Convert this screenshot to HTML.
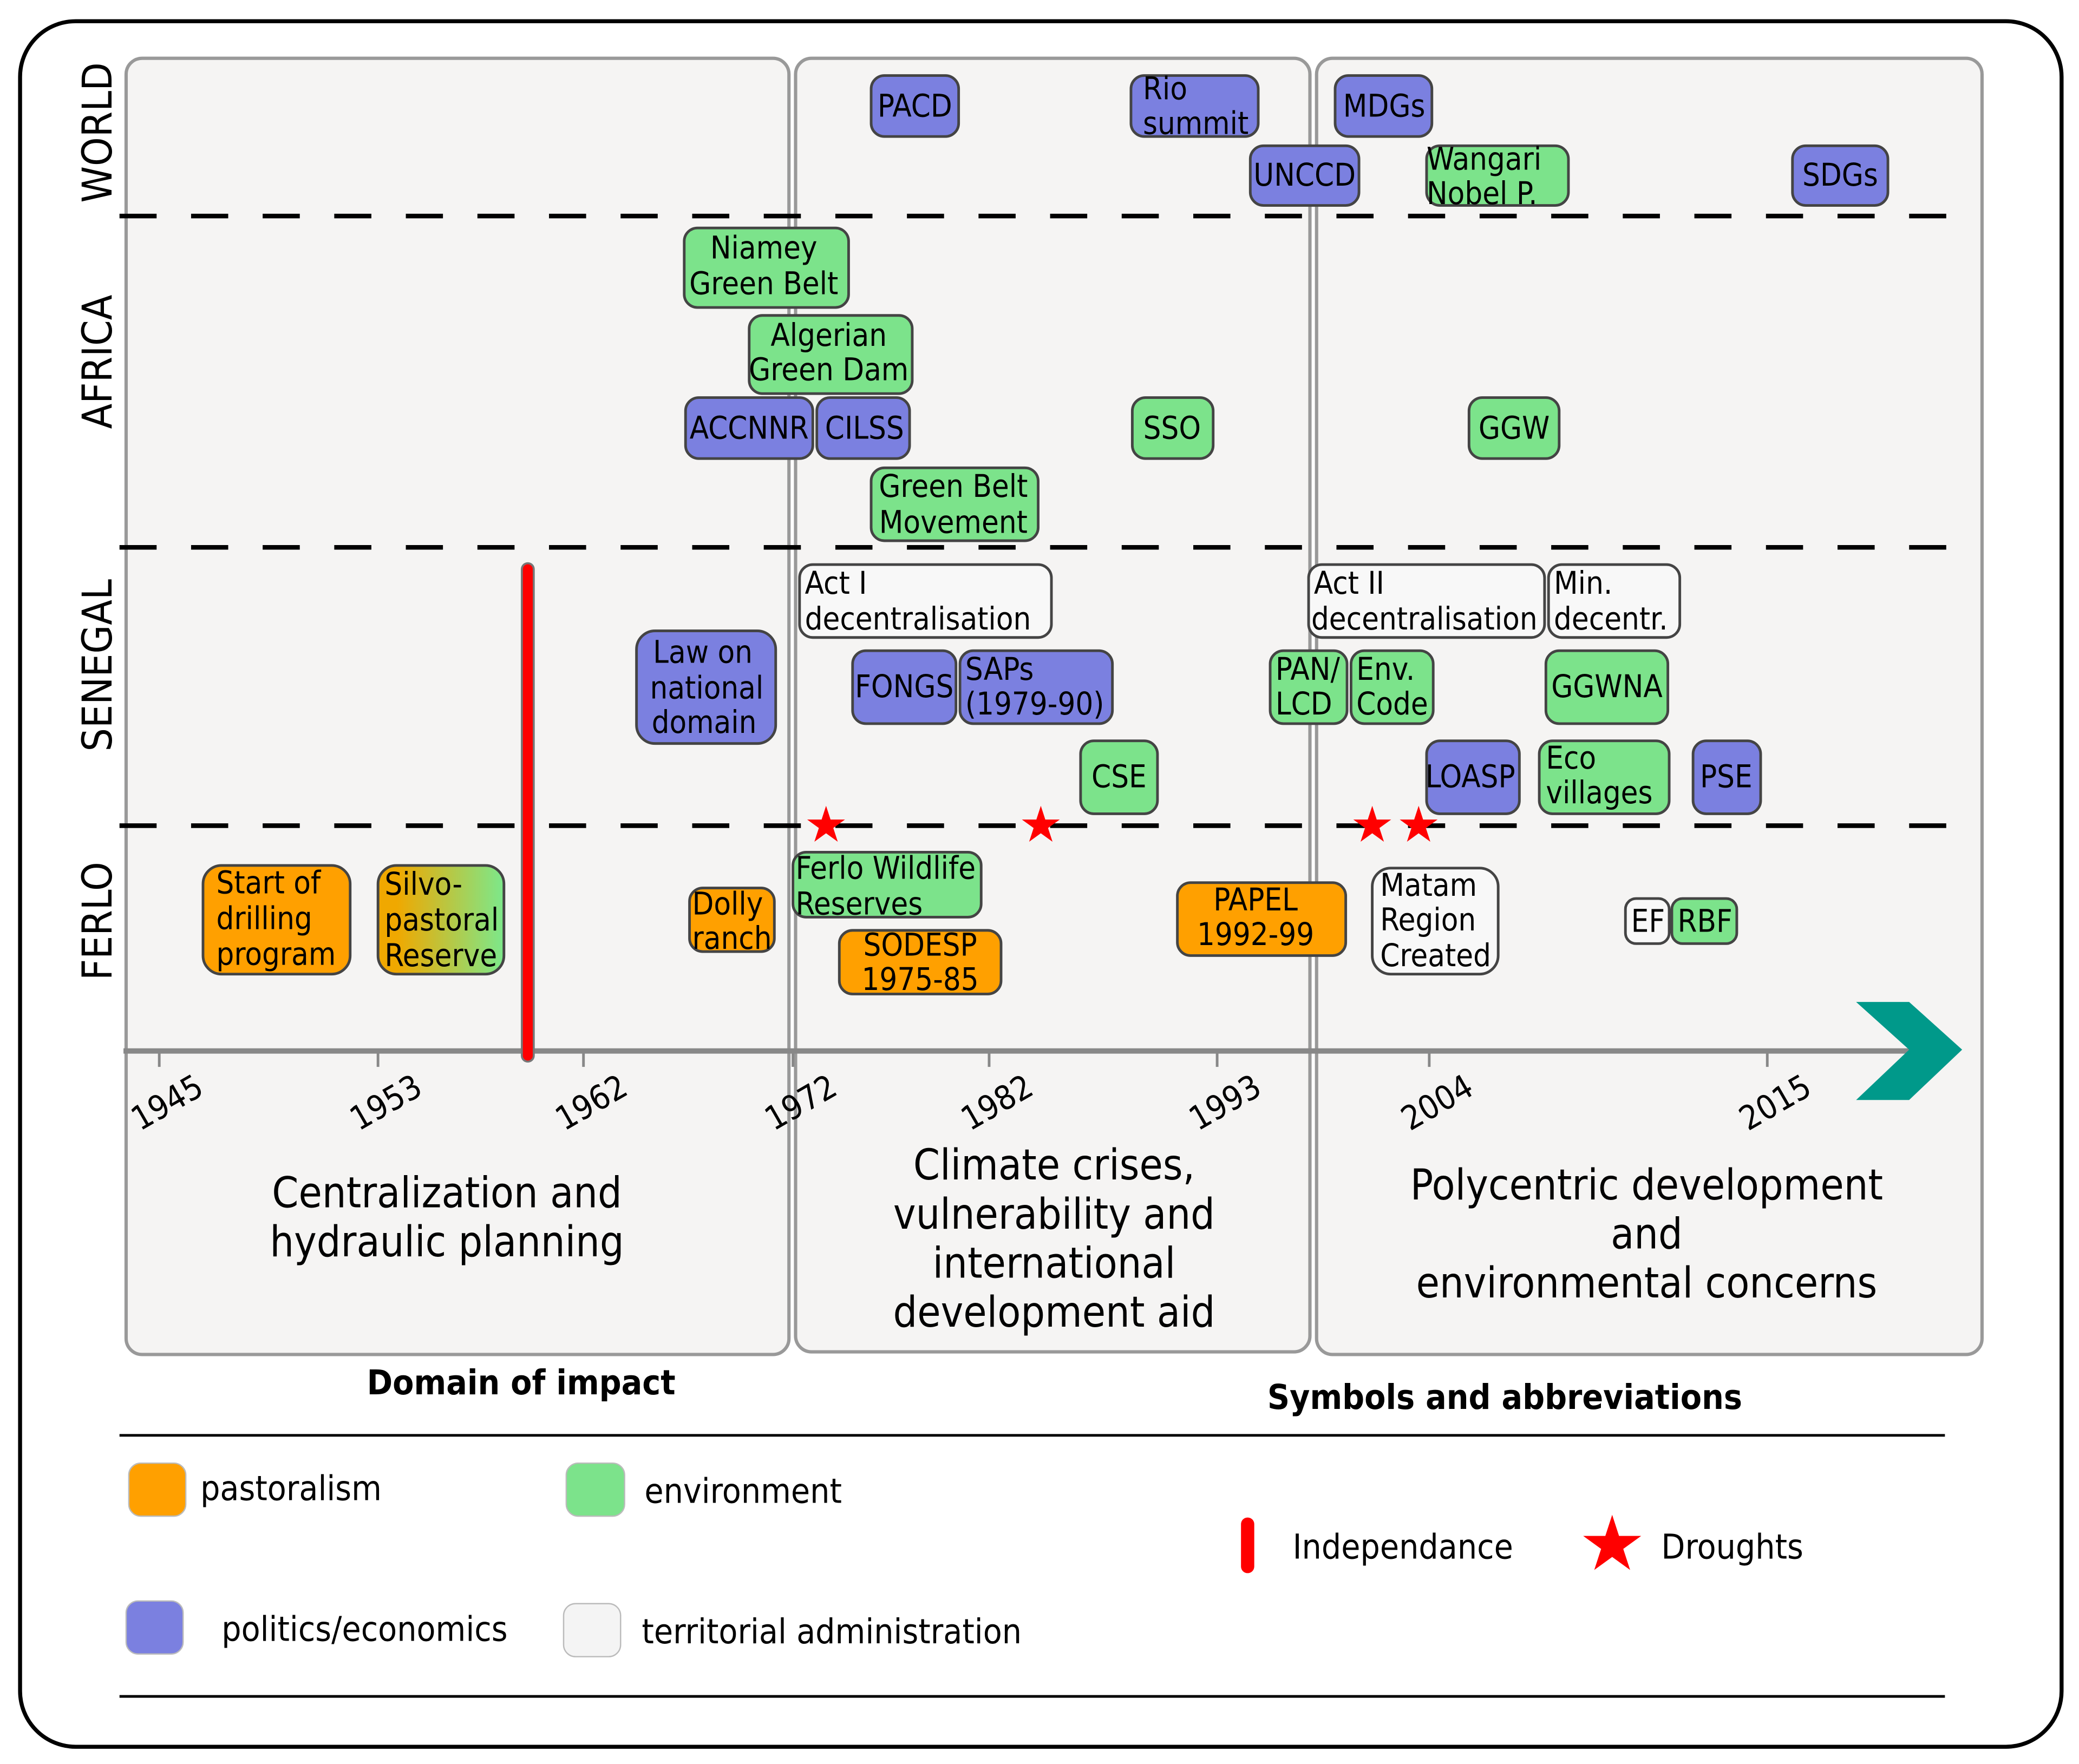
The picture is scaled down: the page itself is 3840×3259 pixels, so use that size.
<!DOCTYPE html>
<html><head><meta charset="utf-8"><style>
html,body{margin:0;padding:0;background:#fff;}
svg{display:block;}
text{font-family:"DejaVu Sans Condensed","DejaVu Sans","Liberation Sans",sans-serif;fill:#000;}
</style></head><body>
<svg width="3840" height="3259" viewBox="0 0 1568 1331" xmlns="http://www.w3.org/2000/svg">
<defs>
<linearGradient id="sg" x1="0" x2="1" y1="0" y2="0"><stop offset="0.15" stop-color="#f0a800"/><stop offset="1" stop-color="#7ce88b"/></linearGradient>
</defs>
<rect x="0" y="0" width="1568" height="1331" fill="#fff"/>
<rect x="15" y="16" width="1540" height="1302" rx="42" fill="#fff" stroke="#000" stroke-width="3"/>
<g fill="#f5f4f3" stroke="#999" stroke-width="2.5">
<rect x="95" y="44" width="500" height="978" rx="12"/>
<rect x="600" y="44" width="388" height="976" rx="12"/>
<rect x="993" y="44" width="502" height="978" rx="12"/>
</g>
<g stroke="#000" stroke-width="3.5" stroke-dasharray="28,26">
<line x1="90" y1="163" x2="1478" y2="163"/>
<line x1="90" y1="413" x2="1478" y2="413"/>
<line x1="90" y1="623" x2="1478" y2="623"/>
</g>
<g font-size="31" style="font-family:'DejaVu Sans',sans-serif">
<text transform="translate(84,100) rotate(-90)" text-anchor="middle">WORLD</text>
<text transform="translate(84,273) rotate(-90)" text-anchor="middle">AFRICA</text>
<text transform="translate(84,502) rotate(-90)" text-anchor="middle">SENEGAL</text>
<text transform="translate(84,695) rotate(-90)" text-anchor="middle">FERLO</text>
</g>
<line x1="93" y1="793" x2="1440" y2="793" stroke="#888" stroke-width="4"/>
<polygon points="1400,756 1440,756 1480,792 1440,830 1400,830 1440,792" fill="#00998a"/>
<g stroke="#888" stroke-width="2">
<line x1="120" y1="793" x2="120" y2="805"/><line x1="285" y1="793" x2="285" y2="805"/><line x1="440" y1="793" x2="440" y2="805"/><line x1="598" y1="793" x2="598" y2="805"/><line x1="746" y1="793" x2="746" y2="805"/><line x1="918" y1="793" x2="918" y2="805"/><line x1="1078" y1="793" x2="1078" y2="805"/><line x1="1333" y1="793" x2="1333" y2="805"/>
</g>
<g font-size="25" text-anchor="end" style="font-family:'DejaVu Sans',sans-serif">
<text transform="translate(155,825) rotate(-30)">1945</text>
<text transform="translate(320,825) rotate(-30)">1953</text>
<text transform="translate(475,825) rotate(-30)">1962</text>
<text transform="translate(633,825) rotate(-30)">1972</text>
<text transform="translate(781,825) rotate(-30)">1982</text>
<text transform="translate(953,825) rotate(-30)">1993</text>
<text transform="translate(1113,825) rotate(-30)">2004</text>
<text transform="translate(1368,825) rotate(-30)">2015</text>
</g>
<rect x="393.5" y="425" width="9" height="376" rx="4.5" fill="#f00" stroke="#777" stroke-width="1.5"/>
<g stroke="#444" stroke-width="2">
<rect x="657" y="57" width="66" height="46" rx="10" fill="#7b80e0"/>
<rect x="853" y="57" width="96" height="46" rx="10" fill="#7b80e0"/>
<rect x="1007" y="57" width="73" height="46" rx="10" fill="#7b80e0"/>
<rect x="943" y="110" width="82" height="45" rx="10" fill="#7b80e0"/>
<rect x="1076" y="110" width="107" height="45" rx="10" fill="#7ce38b"/>
<rect x="1352" y="110" width="72" height="45" rx="10" fill="#7b80e0"/>
<rect x="516" y="172" width="124" height="60" rx="10" fill="#7ce38b"/>
<rect x="565" y="238" width="123" height="59" rx="10" fill="#7ce38b"/>
<rect x="517" y="300" width="96" height="46" rx="10" fill="#7b80e0"/>
<rect x="616" y="300" width="70" height="46" rx="10" fill="#7b80e0"/>
<rect x="854" y="300" width="61" height="46" rx="10" fill="#7ce38b"/>
<rect x="1108" y="300" width="68" height="46" rx="10" fill="#7ce38b"/>
<rect x="657" y="353" width="126" height="55" rx="10" fill="#7ce38b"/>
<rect x="603" y="426" width="190" height="55" rx="10" fill="#f8f8f8"/>
<rect x="987" y="426" width="178" height="55" rx="10" fill="#f8f8f8"/>
<rect x="1168" y="426" width="99" height="55" rx="10" fill="#f8f8f8"/>
<rect x="480" y="476" width="105" height="85" rx="14" fill="#7b80e0"/>
<rect x="643" y="491" width="78" height="55" rx="10" fill="#7b80e0"/>
<rect x="724" y="491" width="115" height="55" rx="10" fill="#7b80e0"/>
<rect x="958" y="491" width="58" height="55" rx="10" fill="#7ce38b"/>
<rect x="1019" y="491" width="62" height="55" rx="10" fill="#7ce38b"/>
<rect x="1166" y="491" width="92" height="55" rx="10" fill="#7ce38b"/>
<rect x="815" y="559" width="58" height="55" rx="10" fill="#7ce38b"/>
<rect x="1076" y="559" width="70" height="55" rx="10" fill="#7b80e0"/>
<rect x="1161" y="559" width="98" height="55" rx="10" fill="#7ce38b"/>
<rect x="1277" y="559" width="51" height="55" rx="10" fill="#7b80e0"/>
<rect x="153" y="653" width="111" height="82" rx="14" fill="#ffa000"/>
<rect x="285" y="653" width="95" height="82" rx="14" fill="url(#sg)"/>
<rect x="520" y="670" width="64" height="48" rx="10" fill="#ffa000"/>
<rect x="598" y="643" width="142" height="49" rx="10" fill="#7ce38b"/>
<rect x="633" y="702" width="122" height="48" rx="10" fill="#ffa000"/>
<rect x="888" y="666" width="127" height="55" rx="10" fill="#ffa000"/>
<rect x="1035" y="655" width="95" height="80" rx="14" fill="#f8f8f8"/>
<rect x="1226" y="678" width="33" height="34" rx="8" fill="#f8f8f8"/>
<rect x="1261" y="678" width="49" height="34" rx="8" fill="#7ce38b"/>
</g>
<g font-size="23.5">
<text x="690" y="88" text-anchor="middle">PACD</text>
<text x="862" y="75">Rio</text><text x="862" y="101">summit</text>
<text x="1044" y="88" text-anchor="middle">MDGs</text>
<text x="984" y="140" text-anchor="middle">UNCCD</text>
<text x="1076" y="128">Wangari</text><text x="1076" y="154">Nobel P.</text>
<text x="1388" y="140" text-anchor="middle">SDGs</text>
<text x="576" y="195" text-anchor="middle">Niamey</text><text x="576" y="222" text-anchor="middle">Green Belt</text>
<text x="625" y="261" text-anchor="middle">Algerian</text><text x="625" y="287" text-anchor="middle">Green Dam</text>
<text x="565" y="331" text-anchor="middle">ACCNNR</text>
<text x="652" y="331" text-anchor="middle">CILSS</text>
<text x="884" y="331" text-anchor="middle">SSO</text>
<text x="1142" y="331" text-anchor="middle">GGW</text>
<text x="719" y="375" text-anchor="middle">Green Belt</text><text x="719" y="402" text-anchor="middle">Movement</text>
<text x="607" y="448">Act I</text><text x="607" y="475">decentralisation</text>
<text x="991" y="448">Act II</text><text x="989" y="475">decentralisation</text>
<text x="1172" y="448">Min.</text><text x="1172" y="475">decentr.</text>
<text x="530" y="500" text-anchor="middle">Law on</text><text x="533" y="527" text-anchor="middle">national</text><text x="531" y="553" text-anchor="middle">domain</text>
<text x="682" y="526" text-anchor="middle">FONGS</text>
<text x="728" y="513">SAPs</text><text x="728" y="539">(1979-90)</text>
<text x="962" y="513">PAN/</text><text x="962" y="539">LCD</text>
<text x="1023" y="513">Env.</text><text x="1023" y="539">Code</text>
<text x="1212" y="526" text-anchor="middle">GGWNA</text>
<text x="844" y="594" text-anchor="middle">CSE</text>
<text x="1109" y="594" text-anchor="middle">LOASP</text>
<text x="1166" y="580">Eco</text><text x="1166" y="606">villages</text>
<text x="1302" y="594" text-anchor="middle">PSE</text>
<text x="163" y="674">Start of</text><text x="163" y="701">drilling</text><text x="163" y="728">program</text>
<text x="290" y="675">Silvo-</text><text x="290" y="702">pastoral</text><text x="290" y="729">Reserve</text>
<text x="522" y="690">Dolly</text><text x="522" y="716">ranch</text>
<text x="600" y="663">Ferlo Wildlife</text><text x="600" y="690">Reserves</text>
<text x="694" y="721" text-anchor="middle">SODESP</text><text x="694" y="747" text-anchor="middle">1975-85</text>
<text x="947" y="687" text-anchor="middle">PAPEL</text><text x="947" y="713" text-anchor="middle">1992-99</text>
<text x="1041" y="676">Matam</text><text x="1041" y="702">Region</text><text x="1041" y="729">Created</text>
<text x="1243" y="703" text-anchor="middle">EF</text>
<text x="1286" y="703" text-anchor="middle">RBF</text>
</g>
<g fill="#f00">
<polygon transform="translate(623,623) scale(15)" points="0,-1 0.2245,-0.309 0.951,-0.309 0.363,0.118 0.588,0.809 0,0.382 -0.588,0.809 -0.363,0.118 -0.951,-0.309 -0.2245,-0.309"/>
<polygon transform="translate(785,623) scale(15)" points="0,-1 0.2245,-0.309 0.951,-0.309 0.363,0.118 0.588,0.809 0,0.382 -0.588,0.809 -0.363,0.118 -0.951,-0.309 -0.2245,-0.309"/>
<polygon transform="translate(1035,623) scale(15)" points="0,-1 0.2245,-0.309 0.951,-0.309 0.363,0.118 0.588,0.809 0,0.382 -0.588,0.809 -0.363,0.118 -0.951,-0.309 -0.2245,-0.309"/>
<polygon transform="translate(1070,623) scale(15)" points="0,-1 0.2245,-0.309 0.951,-0.309 0.363,0.118 0.588,0.809 0,0.382 -0.588,0.809 -0.363,0.118 -0.951,-0.309 -0.2245,-0.309"/>
<polygon transform="translate(1216,1166) scale(23)" points="0,-1 0.2245,-0.309 0.951,-0.309 0.363,0.118 0.588,0.809 0,0.382 -0.588,0.809 -0.363,0.118 -0.951,-0.309 -0.2245,-0.309"/>
</g>
<g font-size="32" text-anchor="middle" style="font-family:'DejaVu Sans',sans-serif">
<text x="337" y="911">Centralization and</text><text x="337" y="948">hydraulic planning</text>
<text x="795" y="890">Climate crises,</text><text x="795" y="927">vulnerability and</text><text x="795" y="964">international</text><text x="795" y="1001">development aid</text>
<text x="1242" y="905">Polycentric development</text><text x="1242" y="942">and</text><text x="1242" y="979">environmental concerns</text>
</g>
<g font-size="26" style="font-family:'DejaVu Sans',sans-serif">
<text x="393" y="1052" text-anchor="middle" font-weight="bold">Domain of impact</text>
<text x="1135" y="1063" text-anchor="middle" font-weight="bold">Symbols and abbreviations</text>
</g>
<line x1="90" y1="1083" x2="1467" y2="1083" stroke="#000" stroke-width="2"/>
<line x1="90" y1="1280" x2="1467" y2="1280" stroke="#000" stroke-width="2"/>
<g stroke="#bbb" stroke-width="1">
<rect x="97" y="1104" width="43" height="40" rx="9" fill="#ffa000"/>
<rect x="427" y="1104" width="44" height="40" rx="9" fill="#7ce38b"/>
<rect x="95" y="1208" width="43" height="40" rx="9" fill="#7b80e0"/>
<rect x="425" y="1210" width="43" height="40" rx="9" fill="#f4f4f4"/>
</g>
<rect x="936" y="1145" width="10" height="42" rx="5" fill="#f00"/>
<g font-size="26" style="font-family:'DejaVu Sans',sans-serif">
<text x="151" y="1132">pastoralism</text>
<text x="486" y="1134">environment</text>
<text x="167" y="1238">politics/economics</text>
<text x="484" y="1240">territorial administration</text>
<text x="975" y="1176">Independance</text>
<text x="1253" y="1176">Droughts</text>
</g>
</svg>
</body></html>
